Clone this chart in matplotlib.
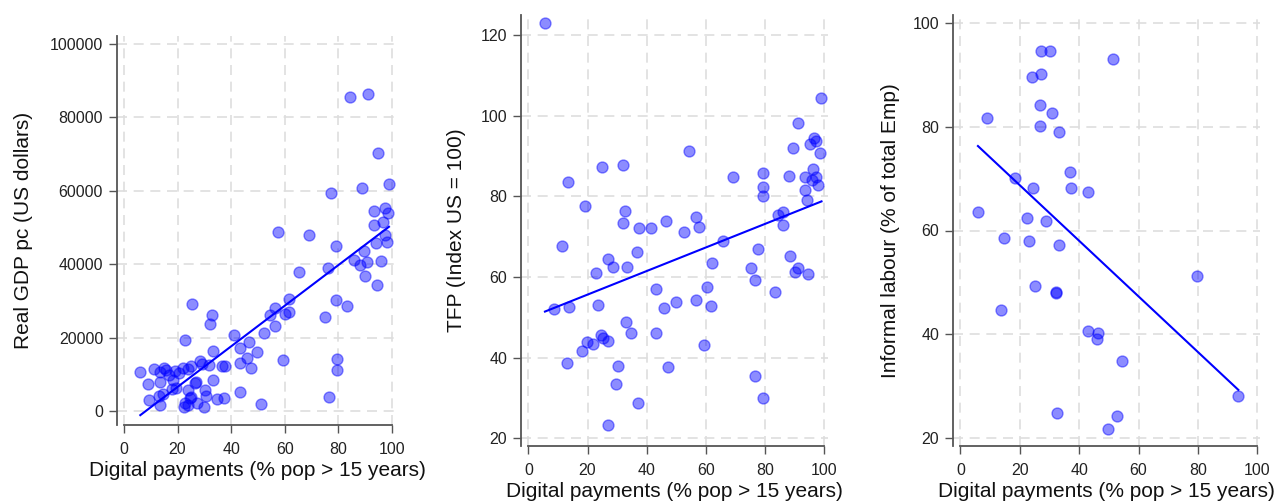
import numpy as np
import matplotlib
matplotlib.use('Agg')
import matplotlib.pyplot as plt

plt.rcParams['font.family'] = ['Liberation Sans', 'DejaVu Sans']

# ============================================================
#  Data
# ============================================================
gdp_x = [6.1, 8.8, 9.2, 11.1, 12.9, 13.3, 13.6, 13.6, 14.6, 14.8, 15.8, 17.9, 18.3,
         19.2, 22.0, 22.3, 22.9, 22.9, 23.8, 23.8, 24.7, 25.0, 25.4, 26.9, 27.2, 28.5,
         30.0, 30.3, 30.7, 31.6, 32.2, 32.8, 33.1, 33.2, 34.7, 36.7, 37.7, 37.2, 41.2,
         43.2, 43.2, 43.4, 45.9, 46.5, 47.4, 49.6, 51.3, 52.4, 54.5, 56.5, 56.4, 57.6,
         59.4, 60.1, 61.7, 61.7, 65.4, 69.2, 75.0, 76.4, 76.2, 77.3, 79.2, 79.1, 79.5,
         79.4, 83.1, 84.3, 85.8, 88.1, 89.0, 89.6, 89.9, 90.8, 91.2, 93.3, 93.3, 94.0,
         94.3, 94.8, 95.8, 96.5, 97.4, 97.4, 98.0, 98.6, 98.9,
         25.0, 26.5, 20.5, 16.8, 29.0, 24.0, 19.5]
gdp_y = [10540, 7360, 3000, 11450, 4090, 1640, 10710, 7990, 4630, 11630, 11170, 5910, 8450,
         10900, 11630, 1170, 19350, 2100, 5720, 1640, 3460, 12260, 29160, 7990, 2100, 13620,
         1170, 5720, 4090, 12530, 23620, 26160, 8450, 16430, 3190, 12260, 12260, 3460, 20710,
         17080, 12990, 5260, 14360, 18880, 11800, 16160, 1910, 21170, 26160, 27980, 23300, 48860,
         13800, 26400, 27000, 30480, 37800, 47900, 25530, 3900, 38890, 59550, 45000, 30150, 14250,
         11170, 28610, 85650, 41150, 39790, 60900, 43500, 36790, 40680, 86340, 54580, 50600, 45700,
         34340, 70220, 40960, 51400, 55240, 48000, 46130, 53870, 61860,
         3900, 7540, 10500, 9800, 12900, 11500, 6300]

tfp_x = [5.6, 99.1, 91.2, 96.6, 97.2, 95.2, 89.5, 98.5, 54.3, 25.0, 31.9, 13.5, 69.3,
         79.2, 79.4, 79.4, 88.2, 93.5, 96.3, 97.2, 97.8, 96.0, 93.5, 94.3, 84.5, 86.2,
         86.2, 19.2, 32.7, 31.9, 37.4, 41.3, 46.4, 52.6, 56.6, 57.7, 65.7, 11.3, 36.8,
         26.8, 28.5, 33.2, 22.8, 77.5, 75.1, 76.6, 62.0, 60.3, 61.7, 88.4, 91.0, 90.1,
         94.6, 83.3, 43.1, 56.6, 49.9, 45.9, 8.7, 13.8, 23.6, 33.0, 34.6, 43.1, 59.5,
         24.5, 25.1, 27.0, 19.9, 22.0, 18.0, 13.0, 30.4, 47.3, 29.6, 37.0, 27.0, 76.6, 79.4]
tfp_y = [123.0, 104.5, 98.2, 94.4, 93.8, 93.0, 92.0, 90.7, 91.3, 87.4, 87.9, 83.5, 84.8,
         85.8, 82.4, 80.2, 85.1, 84.9, 86.8, 84.7, 82.9, 84.1, 81.6, 79.1, 75.4, 76.2,
         72.8, 77.6, 76.5, 73.5, 72.1, 72.1, 74.0, 71.3, 74.8, 72.5, 68.9, 67.8, 66.3,
         64.4, 62.6, 62.6, 60.9, 66.9, 62.2, 59.3, 63.4, 57.5, 52.8, 65.2, 62.2, 61.3,
         60.8, 56.2, 57.0, 54.3, 53.7, 52.4, 52.0, 52.5, 53.1, 48.8, 46.2, 46.1, 43.2,
         45.6, 44.8, 44.2, 44.0, 43.4, 41.7, 38.8, 37.9, 37.8, 33.6, 28.7, 23.3, 35.5, 29.9]

inf_x = [27.3, 30.3, 51.5, 24.1, 27.3, 26.7, 30.7, 9.1, 26.7, 33.1, 36.9, 18.3, 37.4,
         43.0, 24.5, 5.9, 22.3, 28.7, 14.6, 23.0, 33.2, 79.6, 25.0, 32.1, 32.1, 13.8,
         43.0, 46.4, 45.9, 54.3, 93.6, 32.6, 52.6, 49.8]
inf_y = [94.6, 94.6, 93.0, 89.5, 90.1, 84.2, 82.6, 81.6, 80.1, 79.0, 71.2, 70.2, 68.1,
         67.5, 68.1, 63.6, 62.5, 61.9, 58.6, 58.0, 57.2, 51.2, 49.3, 48.2, 47.9, 44.7,
         40.7, 40.2, 39.1, 34.9, 28.1, 24.8, 24.2, 21.7]

x_ticks = [0, 20, 40, 60, 80, 100]
x_label = 'Digital payments (% pop > 15 years)'

# ============================================================
#  Figure
# ============================================================
W, H = 1278, 503
fig = plt.figure(figsize=(W / 100, H / 100), dpi=100)


def px_axes(left, right, top, bottom):
    return fig.add_axes([left / W, 1 - bottom / H, (right - left) / W, (bottom - top) / H])


def panel(ax, x, y, xlim, ylim, yticks, ylabel, ylab_x, xlab_y):
    x = np.array(x)
    y = np.array(y)
    ax.scatter(x, y, s=62, color='blue', alpha=0.45, edgecolors='blue',
               linewidths=1.0, zorder=3)
    b, a = np.polyfit(x, y, 1)
    xs = np.array([x.min(), x.max()])
    ax.plot(xs, a + b * xs, color='blue', lw=1.5, zorder=4)

    ax.set_xlim(*xlim)
    ax.set_ylim(*ylim)
    ax.set_xticks(x_ticks)
    ax.set_yticks(yticks)
    ax.grid(True, color='#dedede', lw=1.2, ls=(0, (6, 4)), zorder=0)
    for s in ['top', 'right']:
        ax.spines[s].set_visible(False)
    for s in ['left', 'bottom']:
        ax.spines[s].set_color('#555555')
        ax.spines[s].set_linewidth(1.3)
    ax.spines['bottom'].set_bounds(0, 100)
    ax.tick_params(axis='both', length=6, width=1, color='#555555',
                   labelsize=11.5, labelcolor='#222222')
    ax.tick_params(axis='x', pad=6)
    ax.tick_params(axis='y', pad=4)
    ax.set_ylabel(ylabel, fontsize=15, color='#111111')
    ax.set_xlabel(x_label, fontsize=15, color='#111111')
    ax.yaxis.set_label_coords(ylab_x, 0.5)
    ax.xaxis.set_label_coords(0.5, xlab_y)
    ax.set_facecolor('white')


ax1 = px_axes(117, 397, 36, 425)
panel(ax1, gdp_x, gdp_y, (-2.6, 101.9), (-3800, 102200),
      [0, 20000, 40000, 60000, 80000, 100000], 'Real GDP pc (US dollars)', -0.30, -0.092)

ax2 = px_axes(521, 828, 15, 446)
panel(ax2, tfp_x, tfp_y, (-2.5, 101.3), (18.1, 125),
      [20, 40, 60, 80, 100, 120], 'TFP (Index US = 100)', -0.179, -0.084)

ax3 = px_axes(953, 1260, 15, 446)
panel(ax3, inf_x, inf_y, (-2.5, 100.9), (18.5, 101.5),
      [20, 40, 60, 80, 100], 'Informal labour (% of total Emp)', -0.173, -0.084)

fig.savefig('out.png', dpi=100)
